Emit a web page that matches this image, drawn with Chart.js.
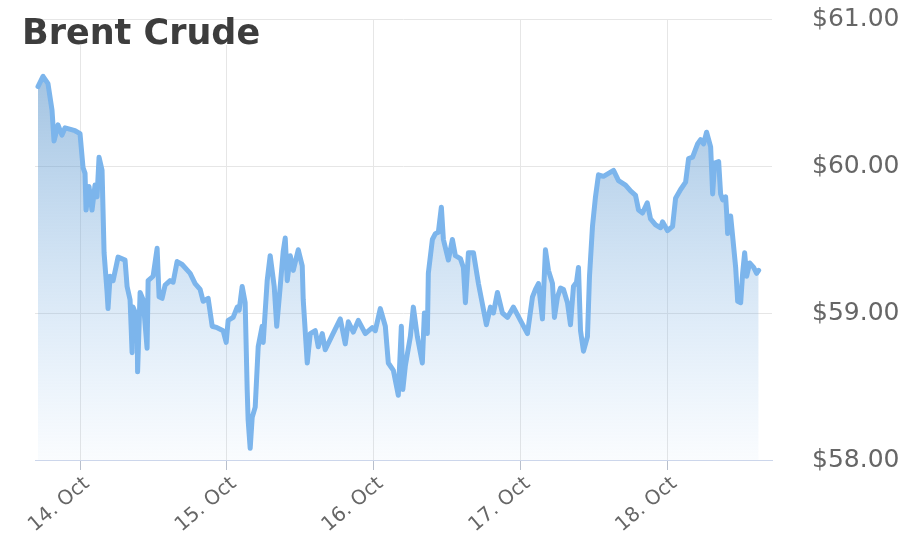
<!DOCTYPE html>
<html>
<head>
<meta charset="utf-8">
<title>Brent Crude</title>
<script src="https://cdn.jsdelivr.net/npm/chart.js@4.4.0/dist/chart.umd.min.js"></script>
<style>
  html, body { margin: 0; padding: 0; background: #fff; }
  #wrap { position: relative; width: 915px; height: 536px; }
  #title {
    position: absolute; left: 18px; top: 20px; margin: 0; padding: 0 4px;
    background: #fff; color: #3d3d3d;
    font: bold 35px "DejaVu Sans", sans-serif; line-height: 25px;
  }
</style>
</head>
<body>
<div id="wrap">
  <canvas id="chart"></canvas>
  <h1 id="title">Brent Crude</h1>
</div>
<script>
"use strict";

// hours since 14 Oct 00:00
const hours = [
  -6.87, -6.05, -5.24, -4.58, -4.25, -3.60, -2.95, -2.45, -0.82, 0,
  0.49, 0.82, 0.98, 1.47, 1.96, 2.45, 2.78, 3.11, 3.60, 3.76,
  3.93, 4.42, 4.58, 4.91, 5.40, 6.22, 7.36, 7.69, 8.18, 8.51,
  8.67, 9.33, 9.41, 9.82, 10.31, 10.96, 11.13, 11.94, 12.60, 12.92,
  13.42, 13.91, 14.72, 15.22, 15.87, 16.69, 18.00, 18.81, 19.63, 20.12,
  20.94, 21.60, 22.41, 23.39, 23.89, 24.21, 25.03, 25.69, 26.01, 26.50,
  26.99, 27.32, 27.48, 27.81, 28.14, 28.63, 29.12, 29.77, 29.94, 30.59,
  31.08, 31.74, 32.15, 32.72, 33.21, 33.54, 33.87, 34.36, 34.85, 35.67,
  36.32, 36.48, 37.14, 37.63, 38.45, 38.94, 39.59, 40.08, 41.23, 42.54,
  43.35, 43.85, 44.67, 45.48, 46.63, 47.77, 48.26, 49.08, 49.90, 50.39,
  51.21, 52.02, 52.52, 52.76, 53.17, 53.99, 54.48, 55.13, 55.95, 56.28,
  56.77, 56.93, 57.59, 58.08, 58.57, 59.06, 59.39, 60.21, 60.86, 61.35,
  62.17, 62.66, 62.99, 63.48, 64.30, 65.12, 66.42, 67.08, 67.57, 68.22,
  69.04, 69.86, 70.84, 71.98, 73.13, 73.95, 74.44, 74.93, 75.58, 76.07,
  76.56, 77.22, 77.54, 78.04, 78.53, 79.02, 79.67, 80.16, 80.65, 81.15,
  81.47, 81.80, 82.29, 82.94, 83.27, 83.76, 84.25, 84.74, 85.56, 86.38,
  87.20, 88.01, 89.16, 89.98, 90.80, 91.29, 91.94, 92.71, 93.25, 94.07,
  94.89, 95.21, 96.03, 96.85, 97.34, 98.16, 98.98, 99.47, 100.12, 100.94,
  101.43, 101.92, 102.41, 103.07, 103.40, 103.72, 104.38, 104.70, 105.03, 105.52,
  105.69, 105.85, 106.34, 106.67, 107.16, 107.49, 107.98, 108.30, 108.63, 108.96,
  109.45, 110.10, 110.59, 110.92
];

// USD per barrel
const prices = [
  60.54, 60.61, 60.56, 60.38, 60.17, 60.28, 60.21, 60.26, 60.24, 60.22,
  59.99, 59.95, 59.70, 59.86, 59.70, 59.87, 59.79, 60.06, 59.97, 59.70,
  59.41, 59.14, 59.03, 59.25, 59.22, 59.38, 59.36, 59.18, 59.09, 58.73,
  59.04, 58.97, 58.60, 59.14, 59.09, 58.76, 59.22, 59.25, 59.44, 59.11,
  59.10, 59.19, 59.22, 59.21, 59.35, 59.33, 59.27, 59.20, 59.16, 59.08,
  59.10, 58.91, 58.90, 58.88, 58.80, 58.95, 58.97, 59.04, 59.02, 59.18,
  59.07, 58.48, 58.27, 58.08, 58.29, 58.36, 58.77, 58.91, 58.80, 59.22,
  59.39, 59.18, 58.91, 59.18, 59.42, 59.51, 59.22, 59.39, 59.29, 59.43,
  59.32, 59.09, 58.66, 58.86, 58.88, 58.77, 58.86, 58.75, 58.85, 58.96,
  58.79, 58.94, 58.87, 58.95, 58.86, 58.90, 58.88, 59.03, 58.91, 58.66,
  58.61, 58.44, 58.91, 58.48, 58.64, 58.84, 59.04, 58.84, 58.66, 59.00,
  58.86, 59.27, 59.50, 59.54, 59.55, 59.72, 59.50, 59.36, 59.50, 59.39,
  59.37, 59.31, 59.07, 59.41, 59.41, 59.20, 58.92, 59.04, 59.00, 59.14,
  59.00, 58.97, 59.04, 58.95, 58.86, 59.11, 59.16, 59.20, 58.96, 59.43,
  59.29, 59.20, 58.97, 59.11, 59.17, 59.16, 59.07, 58.92, 59.18, 59.21,
  59.31, 58.88, 58.74, 58.84, 59.25, 59.59, 59.79, 59.94, 59.93, 59.95,
  59.97, 59.90, 59.87, 59.83, 59.80, 59.70, 59.68, 59.75, 59.64, 59.60,
  59.58, 59.62, 59.56, 59.59, 59.78, 59.84, 59.89, 60.05, 60.06, 60.15,
  60.18, 60.15, 60.23, 60.13, 59.81, 60.02, 60.03, 59.81, 59.77, 59.79,
  59.68, 59.54, 59.66, 59.52, 59.31, 59.08, 59.07, 59.27, 59.41, 59.25,
  59.34, 59.31, 59.27, 59.29
];

const dayTicks = [0, 24, 48, 72, 96];
const dayLabels = ["14. Oct", "15. Oct", "16. Oct", "17. Oct", "18. Oct"];
const priceTicks = [58, 59, 60, 61];

const ctx = document.getElementById("chart").getContext("2d");

function areaFill(c) {
  const area = c.chart.chartArea;
  if (!area) return "rgba(124,181,236,0.4)";
  const g = c.chart.ctx.createLinearGradient(0, area.top, 0, area.bottom);
  g.addColorStop(0, "rgba(80,140,195,0.62)");
  g.addColorStop(1, "rgba(124,181,236,0.04)");
  return g;
}

new Chart(ctx, {
  type: "line",
  data: {
    datasets: [
      {
        data: hours.map((h, i) => ({ x: h, y: prices[i] })),
        borderColor: "#7cb5ec",
        borderWidth: 5,
        borderJoinStyle: "round",
        borderCapStyle: "round",
        backgroundColor: areaFill,
        fill: "start",
        pointRadius: 0,
        tension: 0,
      },
    ],
  },
  options: {
    responsive: true,
    maintainAspectRatio: false,
    animation: false,
    layout: { padding: { left: 35, top: 19, right: 0, bottom: 0 } },
    plugins: {
      legend: { display: false },
      tooltip: { enabled: false },
    },
    scales: {
      x: {
        type: "linear",
        min: -7.36,
        max: 113.1,
        afterBuildTicks: (s) => { s.ticks = dayTicks.map((v) => ({ value: v })); },
        afterFit: (s) => { s.height = 76; },
        grid: { color: "#e6e6e6", tickColor: "#b8bfcc", tickLength: 10 },
        border: { color: "#ccd6eb" },
        ticks: {
          autoSkip: false,
          minRotation: 40,
          maxRotation: 40,
          padding: 2,
          labelOffset: 7,
          color: "#666",
          font: { family: "DejaVu Sans", size: 20 },
          callback: (v) => dayLabels[dayTicks.indexOf(v)],
        },
      },
      y: {
        position: "right",
        min: 58,
        max: 61,
        afterBuildTicks: (s) => { s.ticks = priceTicks.map((v) => ({ value: v })); },
        afterFit: (s) => { s.width = 143; },
        // invisible tick marks keep the labels clear of the plot
        grid: {
          color: (c) => (c.tick && c.tick.value === 58 ? "#ccd6eb" : "#e6e6e6"),
          drawTicks: true,
          tickLength: 40,
          tickColor: "rgba(0,0,0,0)",
        },
        border: { display: false },
        ticks: {
          padding: 0,
          color: "#666",
          font: { family: "DejaVu Sans", size: 25 },
          callback: (v) => "$" + Number(v).toFixed(2),
        },
      },
    },
  },
});
</script>
</body>
</html>
